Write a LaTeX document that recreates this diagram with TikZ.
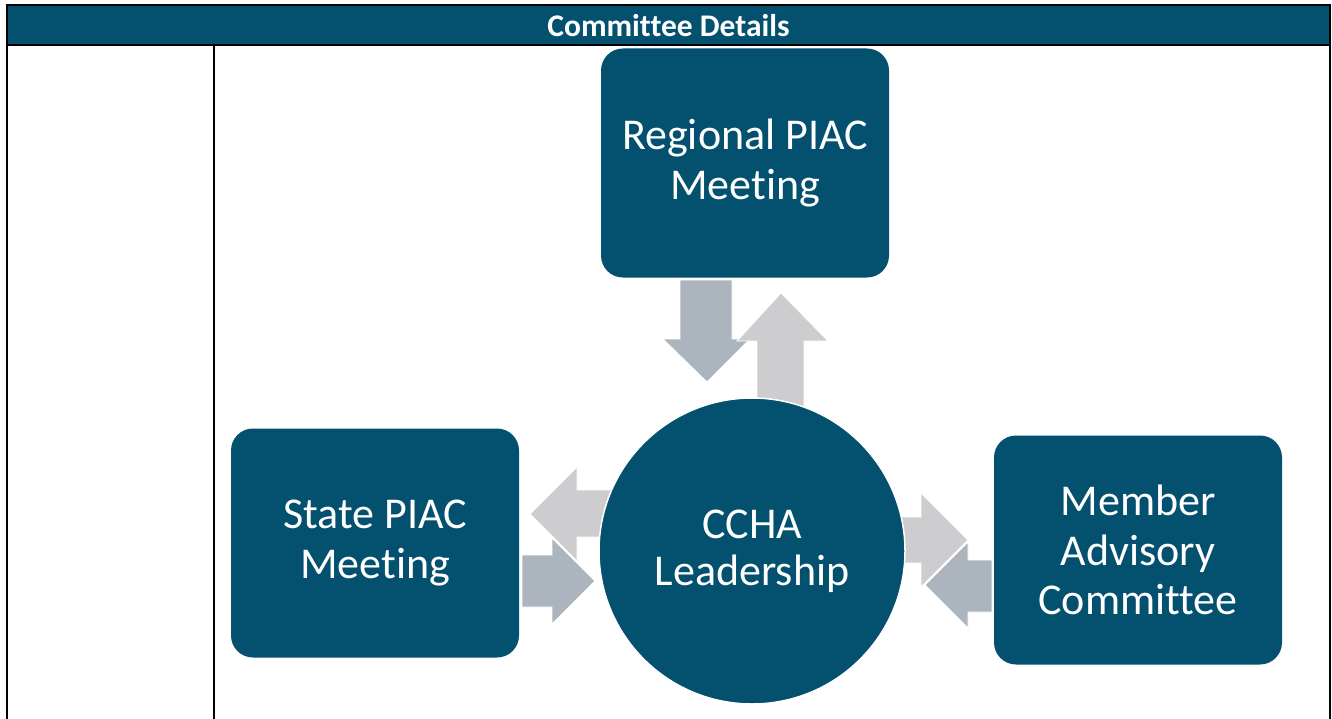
\documentclass[tikz,border=0pt]{standalone}
\usepackage{fontspec}
\setmainfont{Carlito}[Ligatures={NoCommon}]
\definecolor{navy}{RGB}{3,80,111}
\definecolor{darkarr}{RGB}{172,180,190}
\definecolor{lightarr}{RGB}{205,205,208}
\begin{document}
\begin{tikzpicture}[x=1pt,y=-1pt,
  box/.style={fill=navy,rounded corners=22pt,minimum width=288pt,minimum height=229pt,
    text=white,align=center,font=\fontsize{44}{49.5}\selectfont,inner sep=0pt},
  hub/.style={circle,fill=navy,draw=white,line width=1.5pt,minimum size=306pt,
    text=white,align=center,font=\fontsize{44}{47}\selectfont,inner sep=0pt},
  darkblock/.style={fill=darkarr,draw=white,line width=0.8pt},
  lightblock/.style={fill=lightarr,draw=white,line width=0.8pt},
  rule/.style={draw=black,line width=1.6pt}]
\useasboundingbox (0,0) rectangle (1332,719);
% table
\fill[navy] (7,5) rectangle (1330,45);
\node[text=white,font=\fontsize{31.5}{34}\selectfont\bfseries] (head) at (668.5,26) {Committee Details};
\draw[rule] (7,719) -- (7,5) -- (1330,5) -- (1330,719);
\draw[rule] (7,45) -- (1330,45);
\draw[rule] (214,45) -- (214,719);
% boxes
\node[box] (reg) at (745,163) {Regional PIAC\\Meeting};
\node[box] (state) at (375,543) {State PIAC\\Meeting};
\node[box] (mem) at (1138,550) {Member\\Advisory\\Committee};
% block arrows
\draw[darkblock] (680,280) -- (732,280) -- (732,339) -- (750,339) -- (707,382) -- (663,339) -- (680,339) -- cycle;
\draw[lightblock] (757,420) -- (757,341) -- (737,341) -- (781,293) -- (828,341) -- (804,341) -- (804,420) -- cycle;
\draw[lightblock] (620,490) -- (577,490) -- (577,467) -- (530,514) -- (577,561) -- (577,537) -- (620,537) -- cycle;
\draw[darkblock] (522,555) -- (552,555) -- (552,538) -- (595,581) -- (552,624) -- (552,607) -- (522,607) -- cycle;
\draw[lightblock] (885,517) -- (921,517) -- (921,493) -- (968,540) -- (921,587) -- (921,563) -- (885,563) -- cycle;
\draw[darkblock] (992,560) -- (968,560) -- (968,542) -- (925,585) -- (968,628) -- (968,612) -- (992,612) -- cycle;
% hub
\node[hub] (ccha) at (752,551) {CCHA\\Leadership};
\end{tikzpicture}
\end{document}
